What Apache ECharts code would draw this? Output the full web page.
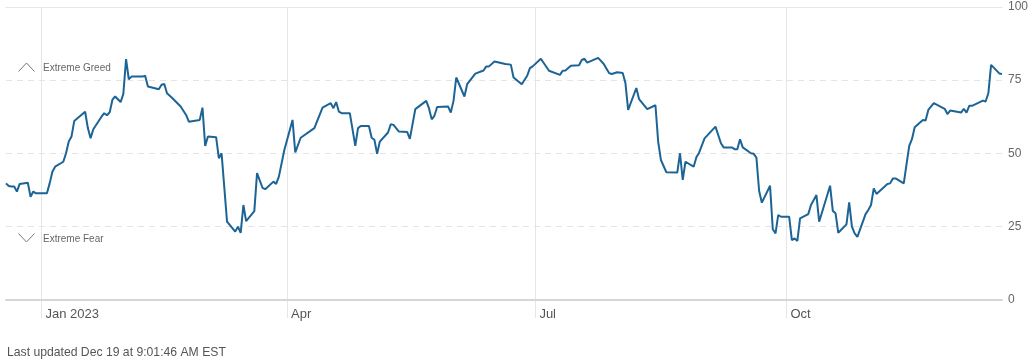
<!DOCTYPE html>
<html>
<head>
<meta charset="utf-8">
<script src="https://cdn.jsdelivr.net/npm/echarts@6/dist/echarts.min.js"></script>
<style>
html,body{margin:0;padding:0;background:#fff;}
#chart{width:1036px;height:361px;}
</style>
</head>
<body>
<div id="chart"></div>
<script>
const dates = [
'2022-12-19','2022-12-20','2022-12-21','2022-12-22','2022-12-23','2022-12-24','2022-12-27','2022-12-28','2022-12-29','2022-12-30',
'2023-01-03','2023-01-04','2023-01-05','2023-01-06','2023-01-09','2023-01-10','2023-01-11','2023-01-12','2023-01-13','2023-01-17',
'2023-01-18','2023-01-19','2023-01-20','2023-01-23','2023-01-24','2023-01-25','2023-01-26','2023-01-27','2023-01-28','2023-01-30',
'2023-01-31','2023-02-01','2023-02-02','2023-02-03','2023-02-07','2023-02-08','2023-02-09','2023-02-13','2023-02-14','2023-02-15',
'2023-02-16','2023-02-18','2023-02-21','2023-02-23','2023-02-24','2023-02-28','2023-03-01','2023-03-02','2023-03-03','2023-03-06',
'2023-03-07','2023-03-08','2023-03-10','2023-03-13','2023-03-14','2023-03-15','2023-03-16','2023-03-17','2023-03-20','2023-03-21',
'2023-03-23','2023-03-24','2023-03-27','2023-03-28','2023-03-29','2023-03-31','2023-04-03','2023-04-04','2023-04-06','2023-04-11',
'2023-04-14','2023-04-17','2023-04-18','2023-04-19','2023-04-20','2023-04-21','2023-04-24','2023-04-26','2023-04-27','2023-04-28',
'2023-05-01','2023-05-02','2023-05-03','2023-05-04','2023-05-05','2023-05-08','2023-05-09','2023-05-10','2023-05-12','2023-05-15',
'2023-05-16','2023-05-18','2023-05-22','2023-05-23','2023-05-24','2023-05-25','2023-05-26','2023-05-30','2023-05-31','2023-06-01',
'2023-06-02','2023-06-05','2023-06-06','2023-06-09','2023-06-12','2023-06-13','2023-06-14','2023-06-16','2023-06-20','2023-06-22',
'2023-06-23','2023-06-26','2023-06-28','2023-06-29','2023-06-30','2023-07-03','2023-07-06','2023-07-10','2023-07-11','2023-07-12',
'2023-07-14','2023-07-17','2023-07-18','2023-07-19','2023-07-20','2023-07-24','2023-07-26','2023-07-28','2023-07-29','2023-07-31',
'2023-08-02','2023-08-03','2023-08-04','2023-08-07','2023-08-08','2023-08-11','2023-08-14','2023-08-15','2023-08-16','2023-08-18',
'2023-08-22','2023-08-23','2023-08-24','2023-08-25','2023-08-28','2023-08-29','2023-08-30','2023-09-01','2023-09-05','2023-09-07',
'2023-09-08','2023-09-11','2023-09-12','2023-09-13','2023-09-14','2023-09-15','2023-09-18','2023-09-19','2023-09-20','2023-09-21',
'2023-09-22','2023-09-25','2023-09-26','2023-09-27','2023-09-28','2023-09-29','2023-10-02','2023-10-03','2023-10-04','2023-10-05',
'2023-10-06','2023-10-09','2023-10-10','2023-10-12','2023-10-13','2023-10-17','2023-10-18','2023-10-19','2023-10-20','2023-10-23',
'2023-10-24','2023-10-25','2023-10-26','2023-10-27','2023-10-30','2023-10-31','2023-11-01','2023-11-02','2023-11-03','2023-11-07',
'2023-11-08','2023-11-09','2023-11-10','2023-11-13','2023-11-15','2023-11-16','2023-11-17','2023-11-20','2023-11-21','2023-11-22',
'2023-11-24','2023-11-28','2023-11-29','2023-11-30','2023-12-04','2023-12-05','2023-12-06','2023-12-07','2023-12-08','2023-12-12',
'2023-12-13','2023-12-14','2023-12-15','2023-12-18','2023-12-19'
];
const values = [
39.7,38.8,38.6,38.6,36.9,39.5,39.9,35.1,36.9,36.3,
36.3,39.7,43.7,45.4,47.1,50,54,55.7,61,64.2,
58.6,55.1,58.2,62.5,63.7,63,64,68.3,69.4,67.5,
70.3,82.2,75.3,76.2,76.2,76.5,72.8,71.9,73.4,73.7,
70.5,68.8,66,63.1,60.8,61.4,65.6,52.5,55.7,55.5,
48.3,50,26.6,23.2,24.9,22.8,32.3,26.8,30.2,43.2,
38.2,37.7,40.3,39.5,42,51.1,61.4,50.3,55.3,58.6,
65.6,67.1,65.4,67.5,64.2,63.7,63.7,52.5,58.6,59.3,
59.3,55.3,54.6,49.8,54,57.1,59.9,59.7,57.4,57.3,
54.9,65.1,67.9,65.4,61.6,62.8,65.8,66,63.9,67.9,
75.9,69.4,73.6,77.2,78.3,79.7,79.7,81.4,80.5,80.3,
75.9,73.6,76.5,79.1,79.7,82.3,78.2,76.8,78.2,78.3,
79.9,80.1,81.9,82.3,81,82.6,80.6,77.4,77.1,77.7,
77.4,74,64.8,72.3,68.5,65.1,66.4,54,47.7,43.5,
43.4,50,40.9,47.1,45.4,48.6,50.2,55.1,59.1,53.4,
52,52,51.4,51.4,54.8,52,50,49.8,48.5,37.1,
33.1,38.9,24,22.6,28.9,28.3,28.3,20.3,20.9,20,
27.7,29.2,32.3,35.7,26.6,38.9,30.3,29.5,22.8,25.7,
33.2,24.9,22.6,21.4,29.2,30.6,32.3,38,36.1,39.5,
39.7,41.4,41.4,39.7,52.5,54.8,58.9,61.4,61.2,64.8,
67.1,65.2,63.4,64.6,63.9,65.2,63.9,66.2,66.2,68,
67.7,70.5,80.2,77.3,77.1
];
const yTicks = [0, 25, 50, 75, 100];
const monthNames = ['Jan','Feb','Mar','Apr','May','Jun','Jul','Aug','Sep','Oct','Nov','Dec'];
const rangeStart = '2022-12-19';
const rangeEnd = '2023-12-19';
const footerText = 'Last updated Dec 19 at 9:01:46 AM EST';

const FONT = '"Liberation Sans", Arial, sans-serif';
const seriesData = dates.map((d, i) => [d, values[i]]);
const GRID_COLOR = '#e6e6e6';

const chart = echarts.init(document.getElementById('chart'), null, {renderer: 'canvas'});
chart.setOption({
  animation: false,
  backgroundColor: '#ffffff',
  grid: [
    {left: 6, right: 34, top: 7, bottom: 61.5, containLabel: false},
    {left: 6, right: 34, top: 299.5, height: 18.5, containLabel: false}
  ],
  xAxis: [{
    type: 'time',
    gridIndex: 0,
    min: rangeStart,
    max: rangeEnd,
    splitNumber: 4,
    axisLine: {show: true, lineStyle: {color: '#d6d6d6', width: 2}},
    axisTick: {show: false},
    minorTick: {show: false},
    splitLine: {show: true, showMinLine: false, showMaxLine: false, lineStyle: {color: GRID_COLOR, width: 1, type: 'solid'}},
    axisLabel: {
      show: true,
      color: '#555555',
      fontFamily: FONT,
      fontSize: 13,
      align: 'left',
      margin: 8,
      padding: [0, 0, 0, 4],
      hideOverlap: false,
      showMinLabel: false,
      showMaxLabel: false,
      formatter: function (v) {
        const d = new Date(v);
        const m = d.getMonth();
        return m === 0 ? monthNames[m] + ' ' + d.getFullYear() : monthNames[m];
      }
    }
  }, {
    type: 'time',
    gridIndex: 0,
    position: 'top',
    min: rangeStart,
    max: rangeEnd,
    axisLine: {show: true, lineStyle: {color: GRID_COLOR, width: 1}},
    axisTick: {show: false},
    axisLabel: {show: false},
    splitLine: {show: false}
  }, {
    type: 'time',
    gridIndex: 1,
    min: rangeStart,
    max: rangeEnd,
    splitNumber: 4,
    axisLine: {show: false},
    axisTick: {show: false},
    axisLabel: {show: false},
    splitLine: {show: true, showMinLine: false, showMaxLine: false, lineStyle: {color: GRID_COLOR, width: 1, type: 'solid'}}
  }],
  yAxis: [{
    type: 'value',
    gridIndex: 0,
    position: 'right',
    min: yTicks[0],
    max: yTicks[yTicks.length - 1],
    interval: 25,
    axisLine: {show: false},
    axisTick: {show: false},
    splitLine: {show: true, lineStyle: {color: '#e4e4e4', width: 1, type: [6, 5]}},
    axisLabel: {color: '#666666', fontFamily: FONT, fontSize: 12, margin: 6}
  }, {
    type: 'value',
    gridIndex: 1,
    min: 0,
    max: 1,
    show: false
  }],
  series: [{
    type: 'line',
    xAxisIndex: 0,
    yAxisIndex: 0,
    data: seriesData,
    showSymbol: false,
    symbol: 'none',
    smooth: false,
    clip: false,
    lineStyle: {color: '#1d6496', width: 2},
    z: 5
  }, {
    type: 'line',
    xAxisIndex: 2,
    yAxisIndex: 1,
    data: [],
    silent: true
  }],
  graphic: [
    {type: 'polyline', shape: {points: [[18.5, 71.5], [26.5, 63], [34.5, 71.5]]}, style: {stroke: '#777', lineWidth: 1, fill: null}},
    {type: 'text', left: 43, top: 63.5, style: {text: 'Extreme Greed', fill: '#666', font: '10px ' + FONT}},
    {type: 'polyline', shape: {points: [[18.5, 233.5], [26.5, 242], [34.5, 233.5]]}, style: {stroke: '#777', lineWidth: 1, fill: null}},
    {type: 'text', left: 43, top: 234, style: {text: 'Extreme Fear', fill: '#666', font: '10px ' + FONT}},
    {type: 'text', left: 7, top: 346.5, style: {text: footerText, fill: '#555', font: '12.2px ' + FONT}}
  ]
});
</script>
</body>
</html>
